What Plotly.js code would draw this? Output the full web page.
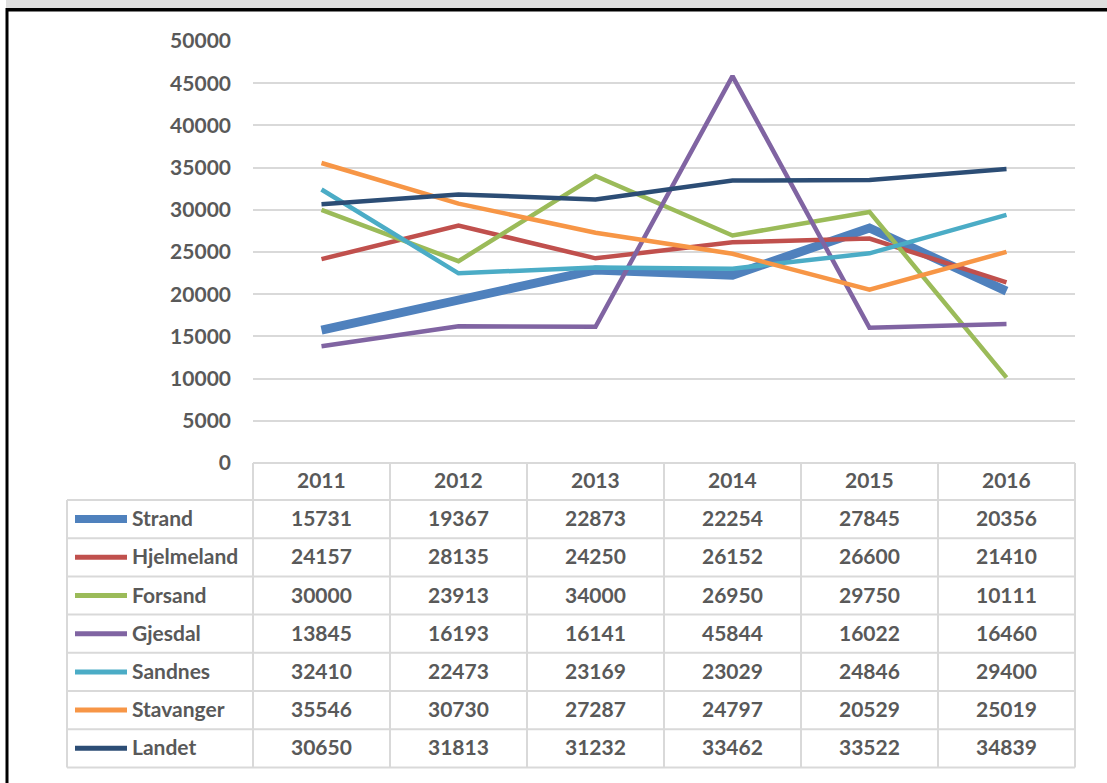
<!DOCTYPE html>
<html>
<head>
<meta charset="utf-8">
<script src="https://cdn.plot.ly/plotly-3.0.1.min.js"></script>
<style>html,body{margin:0;padding:0;background:#fff;}#chart{width:1107px;height:783px;}</style>
</head>
<body>
<div id="chart"></div>
<script>
const years = ['2011', '2012', '2013', '2014', '2015', '2016'];
const seriesNames = ['Strand', 'Hjelmeland', 'Forsand', 'Gjesdal', 'Sandnes', 'Stavanger', 'Landet'];
const strand = [15731, 19367, 22873, 22254, 27845, 20356];
const hjelmeland = [24157, 28135, 24250, 26152, 26600, 21410];
const forsand = [30000, 23913, 34000, 26950, 29750, 10111];
const gjesdal = [13845, 16193, 16141, 45844, 16022, 16460];
const sandnes = [32410, 22473, 23169, 23029, 24846, 29400];
const stavanger = [35546, 30730, 27287, 24797, 20529, 25019];
const landet = [30650, 31813, 31232, 33462, 33522, 34839];
const seriesValues = [strand, hjelmeland, forsand, gjesdal, sandnes, stavanger, landet];
const seriesColors = ['#4F81BD', '#C0504D', '#9BBB59', '#8064A2', '#4BACC6', '#F79646', '#2C4D75'];
const seriesWidths = [9, 4.5, 4.5, 4.5, 4.5, 4.5, 4.5];
const keyWidths = [8, 5, 5, 5, 5, 5, 5];

// plot area in pixels
const L = 253, R = 1075, T = 41, B = 463;
const W = R - L, H = B - T;
const px = x => (x - L) / W;
const py = y => (B - y) / H;

const FONT = 'Lato, "Open Sans", sans-serif';
const TXT = '#595959';
const GRID = '#D9D9D9';

const traces = seriesNames.map((n, i) => ({
  type: 'scatter', mode: 'lines', name: n,
  x: years, y: seriesValues[i],
  line: {color: seriesColors[i], width: seriesWidths[i]},
  hoverinfo: 'skip'
}));

const shapes = [];
const annotations = [];
const colW = W / years.length;
const tableLeft = 67;
const headerTop = B, headerBottom = 500;
const rowH = (767.4 - 500) / seriesNames.length;
const tableBottom = headerBottom + rowH * seriesNames.length;

function line(x0, y0, x1, y1, color, width) {
  shapes.push({type: 'line', xref: 'paper', yref: 'paper',
    x0: px(x0), y0: py(y0), x1: px(x1), y1: py(y1),
    line: {color: color, width: width}, layer: 'above'});
}
function rect(x0, y0, x1, y1, color) {
  shapes.push({type: 'rect', xref: 'paper', yref: 'paper',
    x0: px(x0), y0: py(y0), x1: px(x1), y1: py(y1),
    fillcolor: color, line: {width: 0}, layer: 'above'});
}

// frame
rect(6, 0, 1107, 8, '#DEDEDE');
rect(6, 8, 1107, 11.5, '#000000');
rect(5.5, 8, 8.5, 783, '#000000');

// table horizontal lines
line(L, headerTop, R, headerTop, GRID, 2);
for (let r = 0; r <= seriesNames.length; r++) {
  const y = headerBottom + r * rowH;
  line(tableLeft, y, R, y, GRID, 2);
}
// table vertical lines
for (let c = 0; c <= years.length; c++) {
  const x = L + c * colW;
  line(x, headerTop, x, tableBottom, GRID, 2);
}
line(tableLeft, headerBottom, tableLeft, tableBottom, GRID, 2);

const tfont = {family: FONT, size: 21, color: TXT, weight: 'bold'};
const YS = 1.5;
// header
years.forEach((yr, c) => {
  annotations.push({xref: 'paper', yref: 'paper', x: px(L + (c + 0.5) * colW), y: py((headerTop + headerBottom) / 2),
    text: '<b>' + yr + '</b>', showarrow: false, xanchor: 'center', yanchor: 'middle', yshift: YS, font: tfont});
});
// rows
seriesNames.forEach((n, r) => {
  const yc = headerBottom + (r + 0.5) * rowH;
  shapes.push({type: 'line', xref: 'paper', yref: 'paper', x0: px(75), x1: px(127), y0: py(yc), y1: py(yc),
    line: {color: seriesColors[r], width: keyWidths[r]}, layer: 'above'});
  annotations.push({xref: 'paper', yref: 'paper', x: px(130), y: py(yc),
    text: '<b>' + n + '</b>', showarrow: false, xanchor: 'left', yanchor: 'middle', yshift: YS, font: tfont});
  seriesValues[r].forEach((v, c) => {
    annotations.push({xref: 'paper', yref: 'paper', x: px(L + (c + 0.5) * colW), y: py(yc),
      text: '<b>' + v + '</b>', showarrow: false, xanchor: 'center', yanchor: 'middle', yshift: YS, font: tfont});
  });
});

const layout = {
  width: 1107, height: 783,
  margin: {l: L, r: 1107 - R, t: T, b: 783 - B, pad: 0},
  paper_bgcolor: '#ffffff', plot_bgcolor: '#ffffff',
  showlegend: false,
  font: {family: FONT, color: TXT},
  xaxis: {type: 'category', range: [-0.5, 5.5], showticklabels: false, showgrid: false,
    zeroline: false, showline: false, ticks: '', fixedrange: true},
  yaxis: {range: [0, 50000], dtick: 5000, tick0: 0, tickformat: 'd', showgrid: true, gridcolor: GRID, gridwidth: 2,
    zeroline: false, showline: false, ticks: '', ticklabelstandoff: 21,
    tickfont: {family: FONT, size: 21, color: TXT, weight: 'bold'}, fixedrange: true},
  shapes: shapes,
  annotations: annotations
};

Plotly.newPlot('chart', traces, layout, {displayModeBar: false, staticPlot: true});
</script>
</body>
</html>
